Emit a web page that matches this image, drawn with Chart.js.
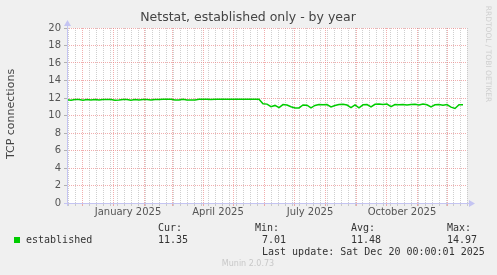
<!DOCTYPE html>
<html><head><meta charset="utf-8">
<script src="https://cdn.jsdelivr.net/npm/chart.js@4"></script>
<style>html,body{margin:0;padding:0;background:#f0f0f0;}canvas{display:block}</style>
</head><body>
<div style="width:497px;height:275px"><canvas id="c" width="497" height="275"></canvas></div>
<script>
// ---- data ----
const startDate = '2024-11-16';   // left edge of the graph
const endDate = '2025-12-21';     // right edge of the graph
const stepDays = 4;               // spacing of the consolidated samples
const established = [
  11.80,11.74,11.83,11.83,11.75,11.83,11.76,11.83,11.76,11.84,
  11.84,11.84,11.75,11.76,11.84,11.84,11.75,11.84,11.76,11.84,
  11.84,11.76,11.84,11.84,11.85,11.85,11.85,11.76,11.76,11.85,
  11.77,11.77,11.78,11.86,11.86,11.86,11.84,11.86,11.86,11.86,
  11.86,11.86,11.86,11.86,11.86,11.86,11.86,11.86,11.86,11.33,
  11.30,11.00,11.15,10.90,11.25,11.20,11.00,10.87,10.87,11.20,
  11.18,10.88,11.15,11.25,11.22,11.25,10.98,11.15,11.25,11.28,
  11.20,10.90,11.22,10.88,11.22,11.25,10.98,11.28,11.30,11.25,
  11.30,11.00,11.25,11.22,11.27,11.20,11.25,11.28,11.20,11.30,
  11.22,10.97,11.22,11.25,11.18,11.25,10.95,10.80,11.23,11.23
];
const monthStarts = ['2024-12-01','2025-01-01','2025-02-01','2025-03-01','2025-04-01','2025-05-01',
  '2025-06-01','2025-07-01','2025-08-01','2025-09-01','2025-10-01','2025-11-01','2025-12-01'];
const monthLabelDates = ['2025-01-16','2025-04-16','2025-07-17','2025-10-17'];
const monthLabels = ['January 2025','April 2025','July 2025','October 2025'];
const yMin = 0, yMax = 20, yStep = 1, yLabelEvery = 2;
const seriesName = 'established';
const statNames = ['Cur:','Min:','Avg:','Max:'];
const statValues = ['11.35','7.01','11.48','14.97'];
const lastUpdate = 'Last update: Sat Dec 20 00:00:01 2025';
const titleText = 'Netstat, established only - by year';
const yTitle = 'TCP connections';
const sideText = 'RRDTOOL / TOBI OETIKER';
const footer = 'Munin 2.0.73';

// ---- helpers ----
const DAY = 86400000;
const t0 = Date.parse(startDate + 'T00:00:00Z');
const dayOf = s => (Date.parse(s + 'T00:00:00Z') - t0) / DAY;
const totalDays = dayOf(endDate);

const points = established.map((v, i) => ({x: i * stepDays, y: v}));

// tick kinds on the x axis
const tickKind = new Map();
for (let d = 0; d <= totalDays; d++) {
  const wd = new Date(t0 + d * DAY).getUTCDay();
  if (wd === 0) tickKind.set(d, {kind: 'minor'});
}
monthStarts.forEach(s => tickKind.set(dayOf(s), {kind: 'major'}));
monthLabelDates.forEach((s, i) => tickKind.set(dayOf(s), {kind: 'label', text: monthLabels[i]}));

const RED = 'rgba(232,120,120,0.6)';
const GRAY = 'rgba(175,175,175,0.6)';
const AXIS = '#c4c4f2';
const FONT = 'DejaVu Sans';
const MONO = 'DejaVu Sans Mono';

function xColor(c) {
  const k = c.tick && tickKind.get(c.tick.value);
  if (!k) return 'transparent';
  return k.kind === 'major' ? RED : (k.kind === 'minor' ? GRAY : 'transparent');
}

const deco = {
  id: 'deco',
  beforeDraw(chart) {
    const {ctx, chartArea: a} = chart;
    ctx.save();
    ctx.fillStyle = '#f0f0f0';
    ctx.fillRect(0, 0, chart.width, chart.height);
    ctx.fillStyle = '#ffffff';
    ctx.fillRect(a.left, a.top, a.right - a.left, a.bottom - a.top);
    ctx.restore();
  },
  afterDraw(chart) {
    const {ctx, chartArea: a} = chart;
    ctx.save();
    ctx.strokeStyle = AXIS; ctx.fillStyle = AXIS; ctx.lineWidth = 1;
    ctx.beginPath();
    ctx.moveTo(a.left + 0.5, a.bottom + 3); ctx.lineTo(a.left + 0.5, a.top - 4);
    ctx.moveTo(a.left - 3, a.bottom + 0.5); ctx.lineTo(a.right + 3, a.bottom + 0.5);
    ctx.stroke();
    ctx.beginPath();
    ctx.moveTo(a.left - 3, a.top - 2); ctx.lineTo(a.left + 4, a.top - 2); ctx.lineTo(a.left + 0.5, a.top - 8);
    ctx.closePath(); ctx.fill();
    ctx.beginPath();
    ctx.moveTo(a.right + 2, a.bottom - 3); ctx.lineTo(a.right + 2, a.bottom + 4); ctx.lineTo(a.right + 8, a.bottom + 0.5);
    ctx.closePath(); ctx.fill();

    ctx.fillStyle = '#444';
    ctx.font = '12.5px "' + FONT + '"';
    ctx.textAlign = 'center'; ctx.textBaseline = 'middle';
    ctx.fillText(titleText, 248, 18);
    ctx.save();
    ctx.translate(11, 114);
    ctx.rotate(-Math.PI / 2);
    ctx.font = '11px "' + FONT + '"';
    ctx.fillText(yTitle, 0, 0);
    ctx.restore();
    ctx.save();
    ctx.translate(488, 54);
    ctx.rotate(Math.PI / 2);
    ctx.fillStyle = '#cfcfcf';
    ctx.font = '7.5px "' + FONT + '"';
    ctx.fillText(sideText, 0, 0);
    ctx.restore();
    ctx.fillStyle = '#00cc00';
    ctx.fillRect(14, 237, 6, 6);
    ctx.fillStyle = '#333';
    ctx.font = '10px "' + MONO + '"';
    ctx.textAlign = 'left';
    ctx.fillText(seriesName, 26, 240);
    const hx = [158, 255, 351, 447];
    const vx = [158, 262, 351, 447];
    statNames.forEach((n, i) => ctx.fillText(n, hx[i], 228));
    statValues.forEach((v, i) => ctx.fillText(v, vx[i], 240));
    ctx.fillText(lastUpdate, 262, 252);
    ctx.fillStyle = '#c8c8c8';
    ctx.font = '8px "' + FONT + '"';
    ctx.textAlign = 'center';
    ctx.fillText(footer, 248, 264);
    ctx.restore();
  }
};

new Chart(document.getElementById('c'), {
  type: 'line',
  data: {
    datasets: [{
      label: seriesName,
      data: points,
      borderColor: '#00cc00',
      borderWidth: 1.5,
      pointRadius: 0,
      tension: 0,
      fill: false
    }]
  },
  options: {
    responsive: false,
    animation: false,
    events: [],
    layout: {padding: {top: 28, right: 30, left: 0, bottom: 0}},
    plugins: {legend: {display: false}, title: {display: false}, tooltip: {enabled: false}},
    scales: {
      x: {
        type: 'linear',
        min: 0, max: totalDays,
        afterBuildTicks(scale) {
          scale.ticks = [...tickKind.keys()].sort((p, q) => p - q).map(v => ({value: v}));
        },
        afterFit(scale) { scale.height = 72; },
        ticks: {
          autoSkip: false, maxRotation: 0, padding: 0,
          color: '#555', font: {family: FONT, size: 10},
          callback(v) { const k = tickKind.get(v); return k && k.kind === 'label' ? k.text : ''; }
        },
        grid: {color: xColor, tickColor: xColor, tickLength: 3, lineWidth: 1},
        border: {display: false, dash: [1, 1]}
      },
      y: {
        min: yMin, max: yMax,
        afterFit(scale) { scale.width = 67; },
        ticks: {
          stepSize: yStep, padding: 3,
          color: '#555', font: {family: FONT, size: 10},
          callback(v) { return v % yLabelEvery === 0 ? String(v) : ''; }
        },
        grid: {
          color(c) { return c.tick && c.tick.value % yLabelEvery === 0 ? RED : GRAY; },
          tickColor(c) { return c.tick && c.tick.value % yLabelEvery === 0 ? 'rgba(150,150,150,0.7)' : 'rgba(200,200,200,0.7)'; },
          tickLength: 3,
          lineWidth: 1
        },
        border: {display: false, dash: [1, 1]}
      }
    }
  },
  plugins: [deco]
});
</script>
</body></html>
